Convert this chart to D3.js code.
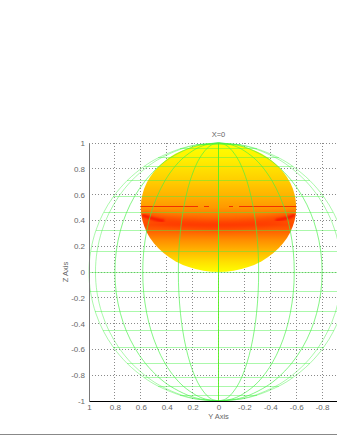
<!DOCTYPE html>
<html>
<head>
<meta charset="utf-8">
<script src="https://cdn.jsdelivr.net/npm/d3@7"></script>
<style>
html, body { margin: 0; padding: 0; background: #fff; overflow: hidden; }
text { font-family: "Liberation Sans", sans-serif; fill: #666; }
</style>
</head>
<body>
<div id="plot"></div>
<script>
var yTicks = [1, 0.8, 0.6, 0.4, 0.2, 0, -0.2, -0.4, -0.6, -0.8];
var gridY = [1, 0.8, 0.6, 0.4, 0.2, 0, -0.2, -0.4, -0.6, -0.8, -1];
var zTicks = [1, 0.8, 0.6, 0.4, 0.2, 0, -0.2, -0.4, -0.6, -0.8, -1];

// wire frame
var meridianWidths = [0.31, 0.585, 0.8, 0.95, 1];
var parallelLevels = [0.985, 0.955, 0.885, 0.82, 0.71, 0.585, 0.46, 0.32, 0.16, 0, -0.15, -0.31, -0.455, -0.585, -0.71, -0.82, -0.885, -0.955];
var arcLevels = [1, 0.985, 0.955, 0.885, 0.82, 0.71, 0.585, 0.455, 0.32, 0.16, 0, -0.16, -0.32, -0.455, -0.585, -0.71, -0.82, -0.885, -0.955, -0.985, -1];

// colour of the inner ellipse against z
var colourZ = [1, 0.9, 0.8, 0.7, 0.6, 0.5, 0.42, 0.365, 0.32, 0.25, 0.16, 0.08, 0];
var colourHex = ["#ffff00", "#fff400", "#ffe000", "#ffcc00", "#ffb400", "#ff9800", "#ff6c00", "#ff4c00", "#ff6000", "#ff8c00", "#ffb800", "#ffdf00", "#ffff00"];

var ellipseCentre = [0, 0.5];
var ellipseRadius = [0.6, 0.5];

// the red band sags in the middle and rises to the rim
var bandY = [0.6, 0.45, 0.3, 0.15, 0, -0.15, -0.3, -0.45, -0.6];
var bandZ = [0.44, 0.4, 0.38, 0.37, 0.365, 0.37, 0.38, 0.4, 0.44];

// red line at z = 0.505, [from, to] in y
var streakZ = 0.505;
var streakParts = [[0.6, 0.155], [0.11, 0.07], [-0.08, -0.115], [-0.155, -0.6]];
// dark patches at both ends of the band
var patchLeftY = [0.59, 0.54, 0.48, 0.42];
var patchLeftZ = [0.44, 0.425, 0.405, 0.395];
var patchRightY = [-0.44, -0.5, -0.55, -0.59];
var patchRightZ = [0.4, 0.41, 0.425, 0.445];

var W = 337, H = 436;
var x = d3.scaleLinear().domain([1, -1]).range([89, 348]);
var y = d3.scaleLinear().domain([1, -1]).range([143, 401]);

var svg = d3.select("#plot").append("svg")
    .attr("width", W)
    .attr("height", H)
    .style("display", "block");

// grid
var grid = svg.append("g");
grid.selectAll("line.gx").data(gridY).join("line")
    .attr("class", "gx")
    .attr("x1", d => x(d)).attr("x2", d => x(d))
    .attr("y1", y(1)).attr("y2", y(-1))
    .attr("stroke", "#8a8a8a").attr("stroke-width", 1)
    .attr("stroke-dasharray", "1,2").attr("shape-rendering", "crispEdges");
grid.selectAll("line.gy").data(zTicks).join("line")
    .attr("class", "gy")
    .attr("x1", x(1)).attr("x2", x(-1))
    .attr("y1", d => y(d)).attr("y2", d => y(d))
    .attr("stroke", "#8a8a8a").attr("stroke-width", 1)
    .attr("stroke-dasharray", "1,2").attr("shape-rendering", "crispEdges");

// filled ellipse
var defs = svg.append("defs");
var grad = defs.append("linearGradient")
    .attr("id", "band")
    .attr("x1", 0).attr("x2", 0).attr("y1", 0).attr("y2", 1);
grad.selectAll("stop").data(colourZ).join("stop")
    .attr("offset", d => 1 - d)
    .attr("stop-color", (d, i) => colourHex[i]);
defs.append("filter").attr("id", "soft")
    .attr("color-interpolation-filters", "sRGB")
    .append("feGaussianBlur").attr("stdDeviation", 0.8);
defs.append("filter").attr("id", "wide")
    .attr("color-interpolation-filters", "sRGB")
    .attr("x", "-10%").attr("width", "120%").attr("y", "-200%").attr("height", "500%")
    .append("feGaussianBlur").attr("stdDeviation", 3);

var ellipseAttrs = function (sel) {
    sel.attr("cx", x(ellipseCentre[0]))
        .attr("cy", y(ellipseCentre[1]))
        .attr("rx", x(-ellipseRadius[0]) - x(0))
        .attr("ry", y(ellipseCentre[1] - ellipseRadius[1]) - y(ellipseCentre[1]));
};
defs.append("clipPath").attr("id", "inside").append("ellipse").call(ellipseAttrs);

svg.append("ellipse").call(ellipseAttrs).attr("fill", "url(#band)");

var inner = svg.append("g").attr("clip-path", "url(#inside)");
var patchLine = d3.line().x(d => x(d[0])).y(d => y(d[1])).curve(d3.curveBasis);
inner.append("path")
    .attr("d", patchLine(d3.zip(bandY, bandZ)))
    .attr("fill", "none").attr("stroke", "#ff2400").attr("stroke-width", 7)
    .attr("stroke-opacity", 0.6)
    .attr("filter", "url(#wide)");
inner.append("path")
    .attr("d", patchLine(d3.zip(patchLeftY, patchLeftZ)))
    .attr("fill", "none").attr("stroke", "#f81000").attr("stroke-width", 2.5)
    .attr("filter", "url(#soft)");
inner.append("path")
    .attr("d", patchLine(d3.zip(patchRightY, patchRightZ)))
    .attr("fill", "none").attr("stroke", "#f81000").attr("stroke-width", 2.5)
    .attr("filter", "url(#soft)");

svg.selectAll("line.streak").data(streakParts).join("line")
    .attr("class", "streak")
    .attr("x1", d => x(d[0])).attr("x2", d => x(d[1]))
    .attr("y1", y(streakZ)).attr("y2", y(streakZ))
    .attr("stroke", "#f03000").attr("stroke-width", 1)
    .attr("shape-rendering", "crispEdges");

// wire sphere
var wire = svg.append("g").attr("fill", "none").attr("stroke", "#44f044").attr("stroke-opacity", 0.45);
wire.selectAll("line.par").data(parallelLevels).join("line")
    .attr("class", "par")
    .attr("x1", d => x(Math.sqrt(1 - d * d))).attr("x2", d => x(-Math.sqrt(1 - d * d)))
    .attr("y1", d => y(d)).attr("y2", d => y(d))
    .attr("shape-rendering", "crispEdges");

var arc = d3.line().x(d => x(d[0])).y(d => y(d[1])).curve(d3.curveCatmullRom);
meridianWidths.forEach(function (m, i) {
    [m, -m].forEach(function (s) {
        wire.append("path")
            .attr("d", arc(arcLevels.map(z => [s * Math.sqrt(1 - z * z), z])))
            .attr("stroke-width", 1)
            .attr("stroke-opacity", i > 2 ? 0.45 : 0.65);
    });
});
wire.append("line")
    .attr("x1", x(0)).attr("x2", x(0)).attr("y1", y(1)).attr("y2", y(-1))
    .attr("stroke", "#55f020").attr("stroke-opacity", 0.9)
    .attr("shape-rendering", "crispEdges");

// axes
var xAxis = d3.axisBottom(x).tickValues(yTicks).tickSize(0).tickPadding(3).tickFormat(String);
var yAxis = d3.axisLeft(y).tickValues(zTicks).tickSize(0).tickPadding(4).tickFormat(String);

var gx = svg.append("g").attr("transform", "translate(0," + y(-1) + ")").call(xAxis);
gx.select(".domain").attr("stroke", "#000").attr("stroke-width", 1.3).attr("shape-rendering", "crispEdges");
gx.selectAll("text").style("font-size", "8px").style("font-family", "Liberation Sans").style("fill", "#666");

var gy = svg.append("g").attr("transform", "translate(" + x(1) + ",0)").call(yAxis);
gy.select(".domain").attr("stroke", "#777").attr("stroke-width", 1.6).attr("shape-rendering", "crispEdges");
gy.selectAll("text").style("font-size", "8px").style("font-family", "Liberation Sans").style("fill", "#666");

svg.append("text").attr("x", x(0)).attr("y", 137).attr("text-anchor", "middle")
    .style("font-size", "7.5px").text("X=0");
svg.append("text").attr("x", x(0)).attr("y", 419).attr("text-anchor", "middle")
    .style("font-size", "7.5px").text("Y Axis");
svg.append("text").attr("transform", "translate(68," + y(0) + ") rotate(-90)")
    .attr("text-anchor", "middle").style("font-size", "7.5px").text("Z Axis");

// window edge at the foot of the shot
svg.append("line").attr("x1", 0).attr("x2", W).attr("y1", 434.5).attr("y2", 434.5)
    .attr("stroke", "#888").attr("stroke-width", 1);
</script>
</body>
</html>
